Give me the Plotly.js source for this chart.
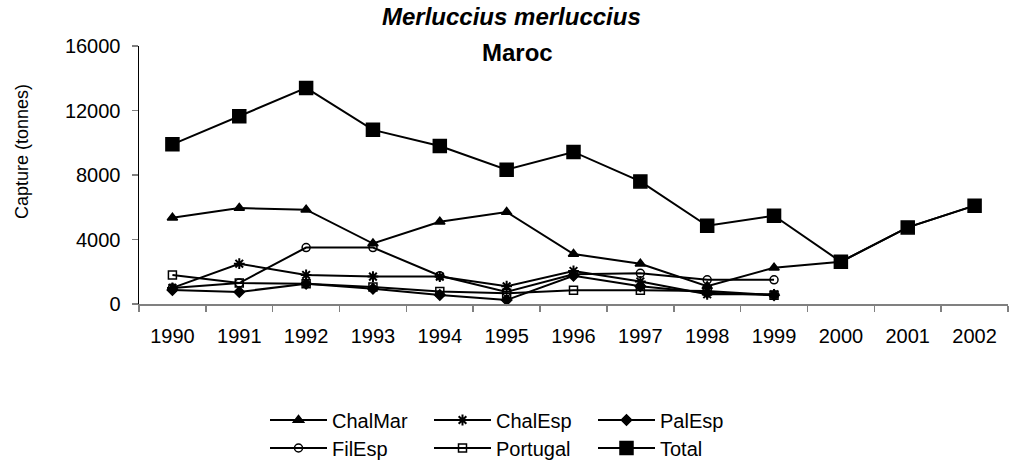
<!DOCTYPE html>
<html>
<head>
<meta charset="utf-8">
<script src="https://cdn.plot.ly/plotly-3.0.1.min.js"></script>
<style>html,body{margin:0;padding:0;background:#fff;}#chart{width:1010px;height:463px;}</style>
</head>
<body>
<div id="chart"></div>
<script>
const years = ['1990','1991','1992','1993','1994','1995','1996','1997','1998','1999','2000','2001','2002'];
const chalMar = [5350, 5950, 5850, 3750, 5100, 5700, 3100, 2500, 1100, 2250, 2620, 4750, 6100];
const chalEsp = [1000, 2500, 1800, 1700, 1700, 1100, 2050, 1400, 600, 600, null, null, null];
const palEsp = [870, 750, 1250, 950, 560, 250, 1750, 1100, 700, 550, null, null, null];
const filEsp = [1000, 1300, 3500, 3500, 1750, 750, 1850, 1900, 1500, 1500, null, null, null];
const portugal = [1800, 1300, 1250, 1050, 770, 660, 850, 850, 800, 550, null, null, null];
const total = [9900, 11650, 13400, 10800, 9800, 8330, 9430, 7600, 4850, 5470, 2620, 4750, 6100];
const seriesNames = ['ChalMar', 'ChalEsp', 'PalEsp', 'FilEsp', 'Portugal', 'Total'];

const FONT = '"Liberation Sans", Arial, sans-serif';
const lineStyle = {color: '#000', width: 2};

function tr(name, y, symbol, size, legend, extra) {
  return Object.assign({
    type: 'scatter', mode: 'lines+markers', name: name, x: years, y: y,
    line: lineStyle, connectgaps: false,
    marker: {symbol: symbol, size: size, color: '#000', line: {color: '#000', width: 1.5}},
    legend: legend, cliponaxis: false
  }, extra || {});
}

const data = [
  tr(seriesNames[5], total, 'square', 13, 'legend2'),
  tr(seriesNames[4], portugal, 'square-open', 8, 'legend2'),
  tr(seriesNames[3], filEsp, 'circle-open', 8, 'legend2'),
  tr(seriesNames[2], palEsp, 'diamond', 8, 'legend'),
  tr(seriesNames[1], chalEsp, 'asterisk-open', 9, 'legend', {marker: {symbol: 'asterisk-open', size: 9, color: '#000', line: {color: '#000', width: 2}}}),
  tr(seriesNames[0], chalMar, 'triangle-up', 9, 'legend')
];

const legendCommon = {
  orientation: 'h', xanchor: 'left', yanchor: 'middle', traceorder: 'reversed',
  font: {family: FONT, size: 20, color: '#000'}, bgcolor: 'rgba(0,0,0,0)',
  itemwidth: 57, entrywidth: 92, itemclick: false, itemdoubleclick: false
};

const layout = {
  width: 1010, height: 463,
  margin: {l: 139, r: 2, t: 46, b: 159, autoexpand: false},
  paper_bgcolor: '#fff', plot_bgcolor: '#fff',
  font: {family: FONT, size: 20, color: '#000'},
  showlegend: true,
  legend: Object.assign({x: (265 - 139) / 869, y: (304 - 420) / 258}, legendCommon),
  legend2: Object.assign({x: (265 - 139) / 869, y: (304 - 448) / 258}, legendCommon),
  xaxis: {
    type: 'category', range: [-0.5, 12.5], fixedrange: true, automargin: false,
    showline: true, linecolor: '#808080', linewidth: 2,
    ticks: 'outside', tickson: 'boundaries', ticklen: 6, tickcolor: '#808080', tickwidth: 1.5,
    ticklabelstandoff: 13,
    showgrid: false, zeroline: false,
    tickfont: {family: FONT, size: 20, color: '#000'}
  },
  yaxis: {
    range: [0, 16000], tickvals: [0, 4000, 8000, 12000, 16000], ticktext: ['0','4000','8000','12000','16000'],
    showline: true, linecolor: '#000', linewidth: 1.5, automargin: false,
    ticks: 'outside', ticklen: 6, tickcolor: '#808080', tickwidth: 1.5,
    ticklabelstandoff: 7,
    showgrid: false, zeroline: false, fixedrange: true,
    tickfont: {family: FONT, size: 20, color: '#000'}
  },
  annotations: [
    {text: '<b><i>Merluccius merluccius</i></b>', xref: 'paper', yref: 'paper',
     x: (511 - 139) / 869, y: (304 - 16) / 258, xanchor: 'center', yanchor: 'middle', showarrow: false,
     font: {family: FONT, size: 24, color: '#000'}},
    {text: '<b>Maroc</b>', xref: 'paper', yref: 'paper',
     x: (517 - 139) / 869, y: (304 - 52) / 258, xanchor: 'center', yanchor: 'middle', showarrow: false,
     font: {family: FONT, size: 24, color: '#000'}},
    {text: 'Capture (tonnes)', xref: 'paper', yref: 'paper', textangle: -90,
     x: (22 - 139) / 869, y: (304 - 152) / 258, xanchor: 'center', yanchor: 'middle', showarrow: false,
     font: {family: FONT, size: 18, color: '#000'}}
  ]
};

Plotly.newPlot('chart', data, layout, {displayModeBar: false, staticPlot: true});
</script>
</body>
</html>
